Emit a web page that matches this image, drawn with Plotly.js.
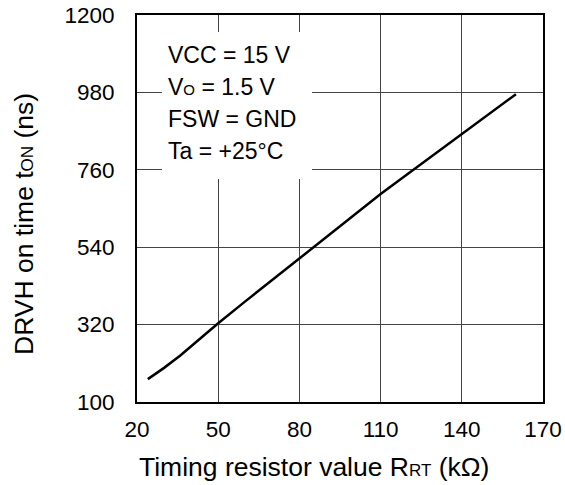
<!DOCTYPE html>
<html>
<head>
<meta charset="utf-8">
<script src="https://cdn.plot.ly/plotly-3.0.1.min.js"></script>
<style>
  html, body { margin: 0; padding: 0; background: #fff; }
  #chart { width: 565px; height: 485px; }
</style>
</head>
<body>
<div id="chart"></div>
<script>
// ---- data ----
var rtValues  = [24, 30, 36, 43, 50, 60, 70, 80, 90, 100, 110, 120, 130, 140, 150, 160];
var tonValues = [165, 197, 232, 278, 324, 386, 447, 508, 569, 630, 691, 748, 805, 862, 918, 975];

var xTickVals = [20, 50, 80, 110, 140, 170];
var yTickVals = [100, 320, 540, 760, 980, 1200];

var conditionLines = [
  'VCC = 15 V',
  'V<span style="font-size:15px">O</span> = 1.5 V',
  'FSW = GND',
  'Ta = +25°C'
];

var xTitle = 'Timing resistor value R<span style="font-size:17px">RT</span> (kΩ)';
var yTitle = 'DRVH on time t<span style="font-size:17px">ON</span> (ns)';

// ---- layout helpers ----
var FONT = '"Liberation Sans", Arial, Helvetica, sans-serif';
var plotL = 137, plotR = 543, plotT = 15, plotB = 402;
var W = 565, H = 485;
function px2paperX(px) { return (px - plotL) / (plotR - plotL); }
function px2paperY(py) { return (plotB - py) / (plotB - plotT); }

var annotations = [];
var lineStartY = 55, lineGap = 32;
conditionLines.forEach(function (t, i) {
  annotations.push({
    xref: 'paper', yref: 'paper',
    x: px2paperX(166), y: px2paperY(lineStartY + i * lineGap),
    xanchor: 'left', yanchor: 'middle',
    text: t, showarrow: false,
    font: { family: FONT, size: 23, color: '#000' }
  });
});
annotations.push({
  xref: 'paper', yref: 'paper',
  x: px2paperX(137), y: px2paperY(467),
  xanchor: 'left', yanchor: 'middle',
  text: xTitle, showarrow: false,
  font: { family: FONT, size: 26.5, color: '#000' }
});
annotations.push({
  xref: 'paper', yref: 'paper',
  x: px2paperX(24), y: px2paperY(224),
  xanchor: 'center', yanchor: 'middle',
  textangle: -90,
  text: yTitle, showarrow: false,
  font: { family: FONT, size: 26.5, color: '#000' }
});

var trace = {
  x: rtValues, y: tonValues,
  type: 'scatter', mode: 'lines',
  line: { color: '#000', width: 2.5 },
  hoverinfo: 'skip'
};

var layout = {
  width: W, height: H,
  margin: { l: plotL, r: W - plotR, t: plotT, b: H - plotB, pad: 0 },
  paper_bgcolor: '#fff', plot_bgcolor: '#fff',
  showlegend: false,
  font: { family: FONT, size: 22, color: '#000' },
  xaxis: {
    range: [20, 170], tickmode: 'array', tickvals: xTickVals,
    ticktext: xTickVals.map(String),
    showgrid: true, gridcolor: '#444', gridwidth: 1,
    showline: true, linecolor: '#000', linewidth: 2, mirror: true,
    zeroline: false, ticks: '', ticklabelstandoff: 6,
    tickfont: { family: FONT, size: 22.5, color: '#000' },
    fixedrange: true
  },
  yaxis: {
    range: [100, 1200], tickmode: 'array', tickvals: yTickVals,
    ticktext: yTickVals.map(String),
    showgrid: true, gridcolor: '#444', gridwidth: 1,
    showline: true, linecolor: '#000', linewidth: 2, mirror: true,
    zeroline: false, ticks: '', ticklabelstandoff: 16,
    tickfont: { family: FONT, size: 22.5, color: '#000' },
    fixedrange: true
  },
  shapes: [{
    type: 'rect', xref: 'paper', yref: 'paper', layer: 'above',
    x0: px2paperX(162), x1: px2paperX(312),
    y0: px2paperY(179), y1: px2paperY(32),
    fillcolor: '#fff', line: { width: 0 }
  }],
  annotations: annotations
};

Plotly.newPlot('chart', [trace], layout, { displayModeBar: false, staticPlot: true });
</script>
</body>
</html>
